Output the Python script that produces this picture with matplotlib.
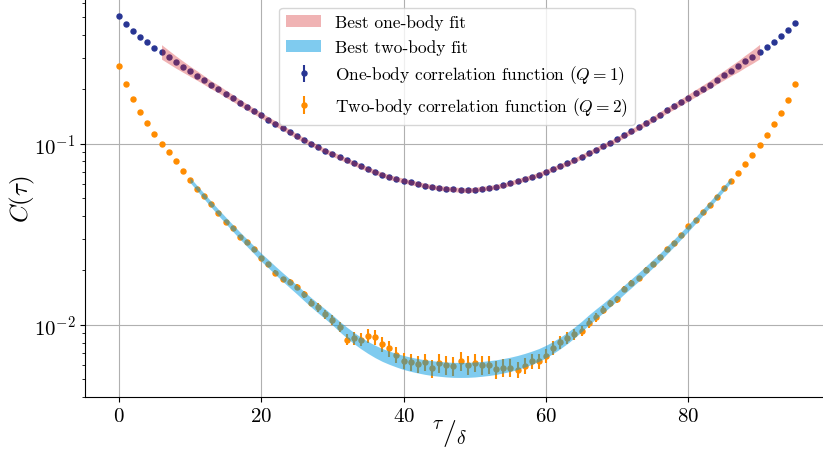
import numpy as np
import matplotlib
matplotlib.use('Agg')
from matplotlib import pyplot as plt

plt.rcParams['font.family'] = 'serif'
plt.rcParams['font.serif'] = ['cmr10']
plt.rcParams['mathtext.fontset'] = 'cm'
plt.rcParams['axes.formatter.use_mathtext'] = True

# correlation functions, tau = 0..95
tau = np.arange(96)
one_body = [0.5076, 0.4603, 0.4210, 0.3916, 0.3646, 0.3404, 0.3223, 0.3024, 0.2838, 0.2674,
            0.2522, 0.2384, 0.2248, 0.2118, 0.2013, 0.1896, 0.1795, 0.1691, 0.1601, 0.1516,
            0.1441, 0.1363, 0.1295, 0.1231, 0.1165, 0.1103, 0.1052, 0.1004, 0.0959, 0.0915,
            0.0881, 0.0845, 0.0813, 0.0782, 0.0753, 0.0725, 0.0700, 0.0677, 0.0655, 0.0641,
            0.0627, 0.0614, 0.0601, 0.0589, 0.0579, 0.0571, 0.0566, 0.0562, 0.0557, 0.0555,
            0.0559, 0.0566, 0.0571, 0.0581, 0.0591, 0.0607, 0.0625, 0.0641, 0.0657, 0.0677,
            0.0703, 0.0728, 0.0756, 0.0782, 0.0813, 0.0851, 0.0889, 0.0930, 0.0975, 0.1013,
            0.1062, 0.1117, 0.1175, 0.1237, 0.1301, 0.1369, 0.1452, 0.1535, 0.1615, 0.1706,
            0.1802, 0.1906, 0.2013, 0.2126, 0.2265, 0.2396, 0.2541, 0.2687, 0.2863, 0.3035,
            0.3235, 0.3435, 0.3674, 0.3936, 0.4248, 0.4644]
one_err_rel = 0.004

two_body = [0.2708, 0.2146, 0.1772, 0.1502, 0.1302, 0.1140, 0.1004, 0.0900, 0.0802, 0.0712,
            0.0635, 0.0562, 0.0516, 0.0464, 0.0414, 0.0372, 0.0342, 0.0305, 0.0289, 0.0262,
            0.0235, 0.0216, 0.0194, 0.0179, 0.0173, 0.0162, 0.0148, 0.0133, 0.0125, 0.0115,
            0.0107, 0.00979, 0.00830, 0.00844, 0.00830, 0.00873, 0.00855, 0.00780, 0.00743, 0.00683,
            0.00635, 0.00625, 0.00609, 0.00625, 0.00577, 0.00617, 0.00601, 0.00596, 0.00635, 0.00601,
            0.00619, 0.00601, 0.00603, 0.00568, 0.00581, 0.00582, 0.00566, 0.00594, 0.00631, 0.00635,
            0.00677, 0.00746, 0.00807, 0.00850, 0.00886, 0.00930, 0.01028, 0.01103, 0.01215, 0.01318,
            0.01392, 0.01581, 0.01706, 0.01811, 0.02020, 0.02173, 0.02366, 0.02630, 0.02838, 0.03155,
            0.03524, 0.03813, 0.04195, 0.04620, 0.05115, 0.05690, 0.06222, 0.06913, 0.07724, 0.08695,
            0.09836, 0.1121, 0.1285, 0.1489, 0.1757, 0.2138]
two_err_rel = [0.004, 0.004, 0.005, 0.005, 0.006, 0.006, 0.007, 0.007, 0.008, 0.009,
               0.010, 0.011, 0.012, 0.013, 0.014, 0.016, 0.018, 0.020, 0.022, 0.024,
               0.026, 0.028, 0.031, 0.034, 0.037, 0.040, 0.044, 0.048, 0.052, 0.056,
               0.060, 0.066, 0.072, 0.077, 0.082, 0.087, 0.091, 0.095, 0.099, 0.102,
               0.105, 0.108, 0.110, 0.112, 0.114, 0.116, 0.117, 0.118, 0.119, 0.118,
               0.117, 0.116, 0.114, 0.112, 0.110, 0.108, 0.105, 0.102, 0.099, 0.095,
               0.091, 0.087, 0.082, 0.077, 0.072, 0.066, 0.060, 0.056, 0.052, 0.048,
               0.044, 0.040, 0.037, 0.034, 0.031, 0.028, 0.026, 0.024, 0.022, 0.020,
               0.018, 0.016, 0.014, 0.013, 0.012, 0.011, 0.010, 0.009, 0.008, 0.007,
               0.007, 0.006, 0.006, 0.005, 0.005, 0.004]

# one-body fit band, tau = 6..90 (centre follows data, half width in decades)
fit1_tau = np.arange(6, 91)
fit1_mid = one_body[6:91]
fit1_hw = ([0.040, 0.037, 0.034, 0.031, 0.028, 0.026, 0.024, 0.022, 0.021, 0.020,
            0.019, 0.018, 0.017, 0.016, 0.016, 0.015, 0.015, 0.014, 0.014, 0.014]
           + [0.013] * 45
           + [0.014, 0.014, 0.014, 0.015, 0.015, 0.016, 0.016, 0.017, 0.018, 0.019,
              0.020, 0.021, 0.022, 0.024, 0.026, 0.028, 0.031, 0.034, 0.037, 0.040])

# two-body fit band, tau = 10..86
fit2_tau = np.arange(10, 87)
fit2_mid = [0.06325, 0.05698, 0.05135, 0.04631, 0.04183, 0.03789, 0.03436, 0.03123, 0.02845, 0.02597,
            0.02366, 0.02179, 0.02000, 0.01842, 0.01700, 0.01571, 0.01446, 0.01335, 0.01237, 0.01150,
            0.01066, 0.009811, 0.009093, 0.008476, 0.007954, 0.007511, 0.007138, 0.006828, 0.006589, 0.006383,
            0.006206, 0.006066, 0.005951, 0.005853, 0.005779, 0.005721, 0.005676, 0.005648, 0.005641,
            0.005648, 0.005676, 0.005721, 0.005779, 0.005853, 0.005951, 0.006066, 0.006206, 0.006383, 0.006589,
            0.006828, 0.007138, 0.007511, 0.007954, 0.008476, 0.009093, 0.009811, 0.01066, 0.01150, 0.01237,
            0.01335, 0.01446, 0.01571, 0.01700, 0.01842, 0.02000, 0.02179, 0.02366, 0.02597, 0.02845,
            0.03123, 0.03436, 0.03789, 0.04183, 0.04631, 0.05135, 0.05698, 0.06325]
fit2_hw = [0.0138, 0.0146, 0.0155, 0.0163, 0.0171, 0.0180, 0.0188, 0.0196, 0.0204, 0.0213,
           0.0221, 0.0227, 0.0232, 0.0238, 0.0243, 0.0249, 0.0254, 0.0260, 0.0265, 0.0271,
           0.0276, 0.0287, 0.0298, 0.0309, 0.0320, 0.0331, 0.0343, 0.0354, 0.0365, 0.0376,
           0.0387, 0.0392, 0.0398, 0.0403, 0.0409, 0.0409, 0.0414, 0.0414, 0.0414,
           0.0414, 0.0414, 0.0409, 0.0409, 0.0403, 0.0398, 0.0392, 0.0387, 0.0376, 0.0365,
           0.0354, 0.0343, 0.0331, 0.0320, 0.0309, 0.0298, 0.0287, 0.0276, 0.0271, 0.0265,
           0.0260, 0.0254, 0.0249, 0.0243, 0.0238, 0.0232, 0.0227, 0.0221, 0.0213, 0.0204,
           0.0196, 0.0188, 0.0180, 0.0171, 0.0163, 0.0155, 0.0146, 0.0138]

one_body = np.array(one_body)
two_body = np.array(two_body)
f1m, f1h = np.array(fit1_mid), np.array(fit1_hw)
f2m, f2h = np.array(fit2_mid), np.array(fit2_hw)

fig = plt.figure(figsize=(8.23, 4.56), dpi=100)
ax = fig.add_axes([85 / 823, 58 / 456, 744 / 823, 398 / 456])

ax.errorbar(tau, one_body, yerr=one_err_rel * one_body, fmt='o', ms=3.6, color='#283593',
            elinewidth=1.5, capsize=0, zorder=3,
            label=r'One-body correlation function $(Q=1)$')
ax.errorbar(tau, two_body, yerr=np.array(two_err_rel) * two_body, fmt='o', ms=3.6,
            color='darkorange', elinewidth=1.5, capsize=0, zorder=3,
            label=r'Two-body correlation function $(Q=2)$')
ax.fill_between(fit1_tau, f1m / 10 ** f1h, f1m * 10 ** f1h, color='#d62728', alpha=0.35,
                lw=0, zorder=4, label='Best one-body fit')
ax.fill_between(fit2_tau, f2m / 10 ** f2h, f2m * 10 ** f2h, color='#0099e0', alpha=0.5,
                lw=0, zorder=4, label='Best two-body fit')

ax.set_yscale('log')
ax.set_xlim(-4.75, 99.75)
ax.set_ylim(0.004, 0.632)
ax.set_xticks([0, 20, 40, 60, 80])
ax.grid(True, which='major', color='#b0b0b0', lw=0.8)
ax.set_axisbelow(True)
ax.spines['top'].set_visible(False)
ax.spines['right'].set_visible(False)
ax.tick_params(labelsize=15)

ax.set_ylabel(r'$C(\tau)$', fontsize=18)
ax.yaxis.set_label_coords(-0.064, 0.5)
ax.set_xlabel(r'$^{\tau}/_{\delta}$', fontsize=20)
ax.xaxis.set_label_coords(0.49, -0.05)

ax.legend(loc='upper center', fontsize=12.5, framealpha=0.8)

fig.savefig('out.png', dpi=100)
